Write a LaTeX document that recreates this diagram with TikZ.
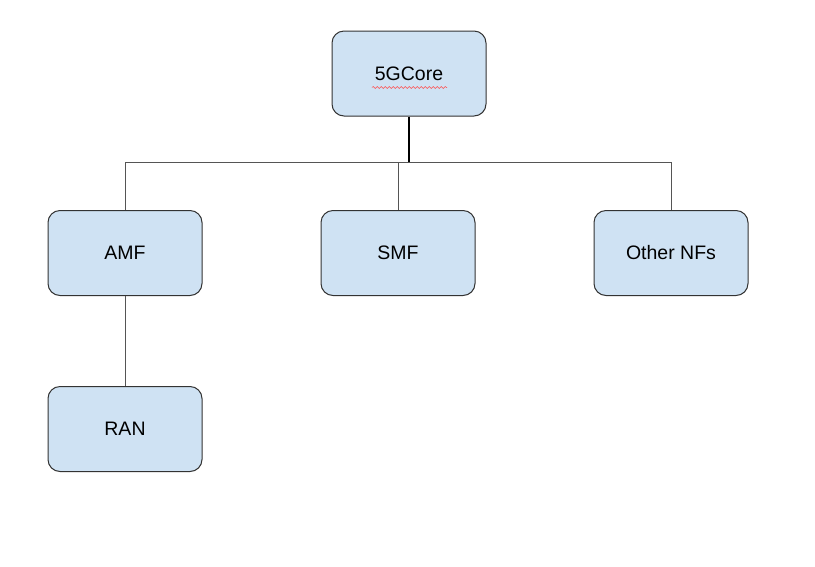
\documentclass[tikz,border=0pt]{standalone}
\usepackage{fontspec}
\setmainfont{Liberation Sans}
\usetikzlibrary{calc,decorations.pathmorphing}
\definecolor{BoxClr}{RGB}{207,226,243}
\definecolor{EdgeClr}{RGB}{51,51,51}
\definecolor{LinkClr}{RGB}{85,85,85}

\begin{document}
\begin{tikzpicture}[x=1pt,y=-1pt,
  nfbox/.style={draw=EdgeClr,line width=1pt,fill=BoxClr,rounded corners=12pt,
    minimum width=154pt,minimum height=85pt,inner sep=0pt,
    font=\fontsize{19.5}{22}\selectfont},
  link/.style={draw=LinkClr,line width=1pt},
  squiggle/.style={draw=red!70,line width=0.5pt,
    decorate,decoration={snake,amplitude=1pt,segment length=4pt}}]
\useasboundingbox (0,0) rectangle (815,566);

\node[nfbox] (core) at (409,73.5) {5GCore};
\node[nfbox] (amf) at (125,253) {AMF};
\node[nfbox] (smf) at (398,253) {SMF};
\node[nfbox] (other) at (671,253) {Other NFs};
\node[nfbox] (ran) at (125,429) {RAN};

\coordinate (bus) at (0,162);

% spell-check mark under 5GCore
\draw[squiggle] ($(core.center)+(-37,14)$) -- ++(75,0);

\draw[link] (amf.north) |- (other.north |- bus) -- (other.north);
\draw[link] (smf.north) -- (smf.north |- bus);
\draw[link,draw=black,line width=2pt] (core.south) -- (core.south |- bus);
\draw[link] (amf.south) -- (ran.north);

\end{tikzpicture}
\end{document}
